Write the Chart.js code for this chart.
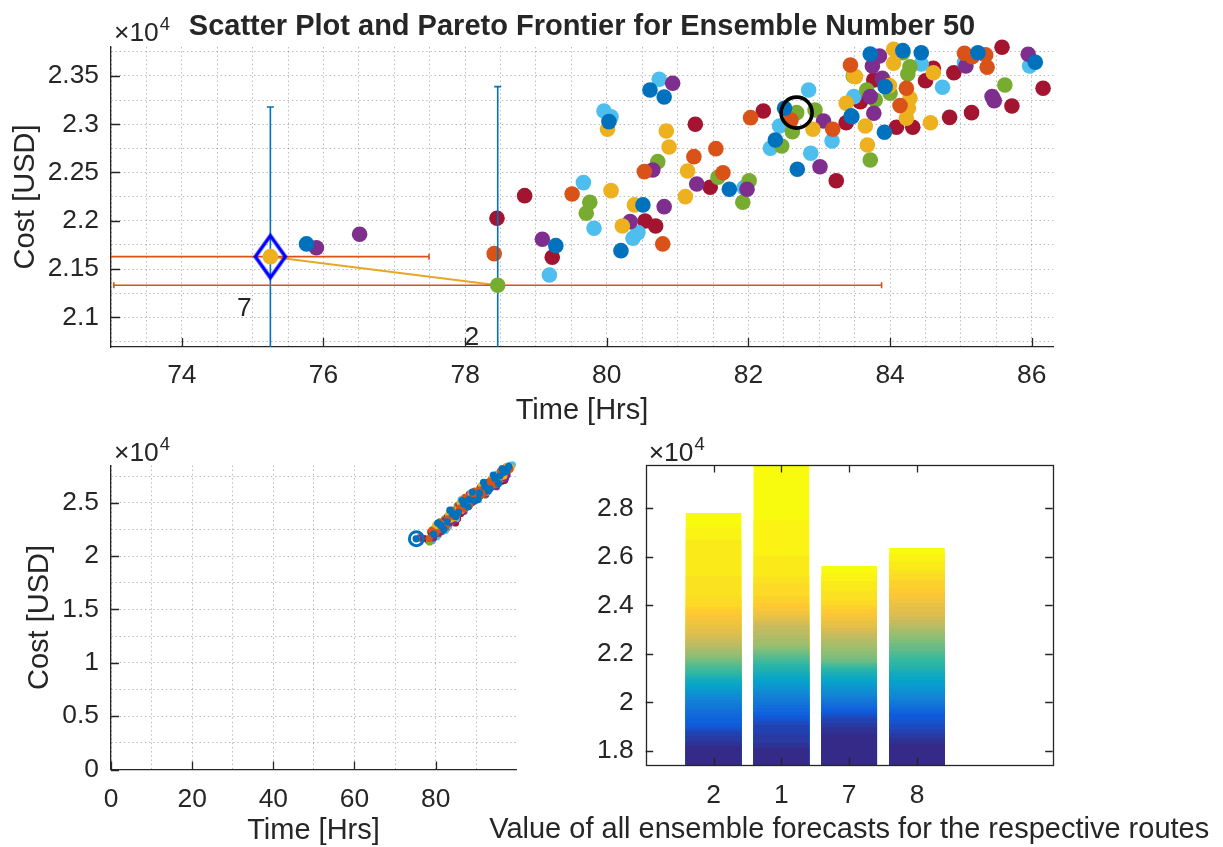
<!DOCTYPE html>
<html><head><meta charset="utf-8">
<script src="https://cdn.jsdelivr.net/npm/chart.js@4.4.1/dist/chart.umd.min.js"></script>
<style>
html,body{margin:0;padding:0;background:#fff;}
body{width:1223px;height:847px;position:relative;overflow:hidden;}
canvas{position:absolute;}
</style></head><body>
<canvas id="c1" style="left:0;top:0" width="1223" height="440"></canvas>
<canvas id="c2" style="left:0;top:430px" width="600" height="417"></canvas>
<canvas id="c3" style="left:450px;top:430px" width="773" height="417"></canvas>
<script>
// ---------------- DATA ----------------
// Top: ensemble number 50, time [hrs] / cost [USD], grouped by marker colour
const blueTime   = [75.76,79.28,80.03,80.61,80.81,80.51,80.20,81.73,82.51,82.38,82.69,83.45,83.72,84.18,84.44,83.93,83.46,83.92,85.24,86.05];
const blueCost   = [21760,21742,23027,23355,23282,22164,21690,22326,23165,22837,22533,23086,23728,23762,23741,23389,23078,22917,23741,23642];
const orangeTime = [78.41,79.51,80.53,80.79,81.23,81.54,81.64,82.03,82.60,83.19,83.44,84.23,84.14,85.05,85.35,85.16,85.37];
const orangeCost = [21659,22277,22509,21760,22664,22747,22498,23068,23044,22948,23614,23373,23193,23735,23718,23700,23590];
const yellowTime = [80.01,80.06,80.84,80.88,80.39,80.22,81.14,81.11,82.91,83.38,83.49,84.05,84.05,84.61,83.51,83.99,84.28,84.26,84.23,83.65,84.57,83.68];
const yellowCost = [22948,22312,22930,22764,22164,21946,22516,22250,22948,23217,23500,23777,23632,23534,23493,23400,23269,23165,23062,22982,23016,22785];
const purpleTime = [75.90,76.51,79.09,80.93,80.65,80.81,80.33,81.27,81.98,83.06,83.01,83.85,83.75,83.89,83.72,83.77,85.07,85.95,85.44,85.47];
const purpleCost = [21721,21860,21808,23424,22526,22146,21991,22381,22326,23034,22560,23707,23604,23476,23286,23114,23604,23725,23286,23244];
const greenTime  = [79.76,79.71,80.72,81.57,82.01,81.92,82.47,82.68,82.62,82.94,83.48,84.18,84.28,84.25,84.00,83.67,83.79,83.72,85.62];
const greenCost  = [22191,22078,22612,22450,22415,22191,22775,23120,22923,23148,23500,23741,23596,23521,23321,23355,23251,22630,23407];
const lblueTime  = [79.19,79.67,79.82,79.96,80.06,80.74,80.44,80.37,81.94,82.85,82.44,82.31,83.18,82.88,83.49,84.44,84.74,85.05,85.97];
const lblueCost  = [21438,22395,21922,23137,23078,23466,21877,21819,22343,23355,22982,22751,22827,22699,23286,23624,23383,23638,23604];
const redTime    = [78.84,78.45,79.23,80.54,80.69,81.25,81.46,82.21,83.24,83.38,83.57,84.61,84.50,84.90,83.77,83.58,84.09,84.32,84.84,85.15,85.58,85.72,86.16];
const redCost    = [22260,22026,21622,21998,21946,23000,22347,23137,22415,23016,23241,23580,23451,23534,23459,23234,22969,22969,23071,23120,23797,23189,23373];

// Pareto frontier (routes 7 and 2) with error ranges
const paretoRoutes = ['7','2'];
const paretoTime   = [75.25, 78.46];
const paretoCost   = [21628, 21332];
const costLow      = [20077, 19275];
const costHigh     = [23179, 23389];
const timeLow      = [72.90, 73.04];
const timeHigh     = [77.49, 83.88];
const chosenTime   = [82.68];
const chosenCost   = [23120];

const topTimeTicks = [74,76,78,80,82,84,86];
const topCostTicks = [21000,21500,22000,22500,23000,23500];

// Bottom-left: all ensembles
const allBlueT   = [75.2,79.5,81.2,82.8,84.1,85.6,86.9,88.2,89.5,90.8,92.1,93.4,94.6,95.8,96.9,98.0,80.5,82.0,83.5,85.0,86.5,88.0,89.0,90.5,91.8,93.0,94.2,95.5,97.5,96.4];
const allBlueC   = [21620,22050,22900,23200,23950,24100,24900,25300,25200,25900,26500,26300,27300,27500,27900,28400,23100,22500,24300,23700,25200,24600,26000,25300,26900,26100,27600,26800,28000,28200];
const allOrangeT = [78.4,80.1,81.5,83.0,84.5,85.9,87.0,88.6,89.9,91.0,92.5,93.8,95.0,96.2,97.3,98.3,79.0,81.0,82.5,84.0,85.5,87.2,88.4,89.6,91.0,92.0,93.5,94.8,96.0,97.8];
const allOrangeC = [21660,22200,22500,23500,23700,24500,24400,25400,25800,25700,26600,26900,27000,27700,27900,28150,22400,23200,22700,24300,24000,25500,24800,26100,26200,25900,27000,26700,28000,28300];
const allYellowT = [75.2,79.8,81.1,82.3,83.7,85.2,86.4,87.7,89.1,90.4,91.7,93.0,94.2,95.5,96.8,98.6,80.0,81.8,83.2,84.6,86.0,87.4,88.7,90.0,91.3,92.6,93.9,95.1,96.3,97.4];
const allYellowC = [21630,22310,22520,23000,23450,24300,24300,24800,25550,25400,26200,26700,26700,27400,27500,28300,22900,22600,23900,23600,25000,24500,25900,25600,26600,26000,27300,27000,27500,28400];
const allPurpleT = [75.9,79.1,80.7,82.1,83.4,84.8,86.1,87.3,88.9,90.2,91.4,92.8,94.0,95.3,96.5,97.6,79.5,81.4,82.9,84.3,85.7,87.0,88.3,89.8,91.1,92.4,93.7,95.0,96.1,97.2];
const allPurpleC = [21720,21800,22150,23300,23100,24000,24700,24650,25000,26000,25900,26200,27100,27000,27800,27600,21700,22300,23700,23300,24800,24200,25800,25200,26500,25800,27200,26500,27900,27300];
const allGreenT  = [78.5,79.7,80.9,82.6,84.0,85.0,86.6,87.9,89.3,90.6,91.9,93.2,94.4,95.6,96.6,97.8,79.3,80.8,82.2,83.8,85.3,86.8,88.1,89.4,90.8,92.2,93.4,94.7,95.9,97.0];
const allGreenC  = [21330,22100,22600,22900,23300,23900,24500,25200,25100,25700,26600,26400,26900,27200,27300,28000,22500,22100,23500,23200,24700,24300,25600,25400,26300,25700,27000,26600,27600,27800];
const allLblueT  = [79.2,80.3,81.9,83.2,84.7,85.8,87.1,88.4,89.7,91.2,92.3,93.6,94.9,96.0,97.1,98.9,80.9,82.4,84.2,85.1,86.3,87.8,89.2,90.3,91.6,92.9,94.1,95.2,96.6,98.2];
const allLblueC  = [21440,21820,22340,22800,23500,24700,25000,24900,25900,26100,26000,26800,27500,27200,28000,28550,22800,22400,24100,23500,25300,24700,25700,25500,26700,26300,26900,27700,27600,28500];
const allRedT    = [76.4,77.2,78.8,80.6,81.6,83.6,84.9,86.2,87.5,88.8,90.0,91.5,92.9,94.3,95.7,97.0,78.2,79.6,81.0,82.7,84.4,85.4,86.8,88.2,89.4,90.9,92.1,93.5,94.7,96.2];
const allRedC    = [21680,21650,22260,22000,22350,23240,23100,24000,25100,25650,25300,26300,26900,26600,27600,27100,21450,21900,22900,22600,24000,23500,25000,24700,25800,25600,26600,26400,27300,27000];
const allTimeTicks = [0,20,40,60,80];
const allCostTicks = [0,5000,10000,15000,20000,25000];

// Bottom-right: sorted ensemble costs per route
const routeLabels = ['2','1','7','8'];
const ensRoute2 = [18200,18376,18600,18788,18880,18967,19150,19338,19500,19682,19800,19957,20080,20200,20300,20400,20500,20575,20700,20800,20919,21000,21060,21125,21200,21331,21450,21550,21650,21744,21850,21950,22100,22200,22294,22450,22600,22706,22850,23050,23200,23394,23600,23800,23943,24356,25200,26693,27215,27806];
const ensRoute1 = [18100,18308,18700,19063,19200,19350,19476,19600,19750,19888,20000,20150,20300,20400,20500,20600,20713,20800,20950,21056,21150,21250,21350,21450,21579,21680,21780,21881,22000,22100,22200,22300,22404,22600,22800,23000,23187,23300,23394,23500,23600,23737,23900,24100,24383,24907,25180,26033,27500,29786];
const ensRoute7 = [18700,18968,19150,19340,19450,19550,19650,19752,19850,19950,20050,20165,20260,20360,20470,20577,20680,20780,20880,20990,21080,21170,21250,21330,21402,21480,21550,21620,21675,21800,21950,22100,22250,22400,22597,22700,22845,22950,23050,23187,23350,23500,23670,23850,24000,24218,24600,25000,25319,25620];
const ensRoute8 = [18300,18515,18700,18886,19100,19300,19517,19620,19720,19819,19940,20050,20165,20280,20400,20507,20640,20780,20919,21060,21200,21280,21360,21500,21650,21814,21950,22100,22294,22450,22600,22750,22871,23000,23130,23257,23400,23531,23700,23943,24100,24250,24466,24700,25043,25300,25456,25800,26100,26363];
const barCostTicks = [18000,20000,22000,24000,26000,28000];
const parulaStops = ['#352a87','#0f5cdd','#1481d6','#06a4ca','#2eb7a4','#87bf77','#d1bb59','#fec832','#f9fb0e'];

// ---------------- STYLE / HELPERS ----------------
const FONT = '"Liberation Sans", Arial, Helvetica, sans-serif';
const AX = '#262626';
const GRID = 'rgba(38,38,38,0.32)';
const TICK_FS = 26.4, LABEL_FS = 29;
const C = {blue:'#0072BD', orange:'#D95319', yellow:'#EDB120', purple:'#7E2F8E', green:'#77AC30', lblue:'#4DBEEE', red:'#A2142F'};
Chart.defaults.font.family = FONT;
Chart.defaults.color = AX;
Chart.defaults.animation = false;
Chart.defaults.events = [];
Chart.defaults.plugins.legend.display = false;
Chart.defaults.plugins.tooltip.enabled = false;

function fmt(v){ return String(parseFloat((v/1e4).toFixed(4))); }
function gridTicks(min,max,step){ const a=[]; const s=Math.ceil(min/step-1e-9); for(let i=s; i*step<=max+1e-9; i++) a.push(+(i*step).toFixed(6)); return a; }
function pts(t,c){ return t.map((v,i)=>({x:v,y:c[i]})); }
function hexRGB(h){ return [parseInt(h.slice(1,3),16),parseInt(h.slice(3,5),16),parseInt(h.slice(5,7),16)]; }
function parula(t){
  const n=parulaStops.length-1, p=Math.max(0,Math.min(1,t))*n, i=Math.min(n-1,Math.floor(p)), f=p-i;
  const a=hexRGB(parulaStops[i]), b=hexRGB(parulaStops[i+1]);
  return 'rgb('+a.map((v,j)=>Math.round(v+(b[j]-v)*f)).join(',')+')';
}
function linScale(o){
  return {
    type:'linear', min:o.min, max:o.max, offset:false,
    afterBuildTicks: s => { s.ticks = (o.step ? gridTicks(o.min,o.max,o.step) : o.major).map(v=>({value:v})); },
    afterFit: s => { if (o.w!=null) s.width=o.w; if (o.h!=null) s.height=o.h; },
    ticks:{autoSkip:false, maxRotation:0, minRotation:0, padding:o.pad, font:{size:TICK_FS, family:FONT}, color:AX,
      callback: v => { const k=o.major.findIndex(m=>Math.abs(m-v)<1e-6); return k<0 ? '' : (o.labels ? o.labels[k] : o.fmt(v)); }},
    grid:{display:o.grid, color:GRID, lineWidth:1, drawTicks:false, offset:false},
    border:{display:o.border, color:AX, width:1.3, dash:[1.4,2.8]}
  };
}
function txt(ctx,s,x,y,size,opt){
  opt=opt||{}; ctx.save(); ctx.font=(opt.bold?'bold ':'')+size+'px '+FONT; ctx.fillStyle=AX;
  ctx.textAlign=opt.align||'center'; ctx.textBaseline=opt.base||'middle';
  ctx.translate(x,y); if(opt.rot) ctx.rotate(opt.rot); ctx.fillText(s,0,0); ctx.restore();
}
function expLabel(ctx,x,y){
  ctx.save(); ctx.fillStyle=AX; ctx.textAlign='left'; ctx.textBaseline='alphabetic';
  ctx.font=TICK_FS+'px '+FONT; ctx.fillText('\u00d710',x,y); const w=ctx.measureText('\u00d710').width;
  ctx.font='18.5px '+FONT; ctx.fillText('4',x+w+1,y-11); ctx.restore();
}
function inTicks(chart,axis,vals,len,sides){
  const ctx=chart.ctx,a=chart.chartArea,s=chart.scales[axis];
  ctx.save(); ctx.strokeStyle=AX; ctx.lineWidth=1.3; ctx.beginPath();
  vals.forEach(v=>{ const p=Math.round(s.getPixelForValue(v))+0.5;
    if(axis==='x'){ if(sides.includes('b')){ctx.moveTo(p,a.bottom);ctx.lineTo(p,a.bottom-len);} if(sides.includes('t')){ctx.moveTo(p,a.top);ctx.lineTo(p,a.top+len);} }
    else { if(sides.includes('l')){ctx.moveTo(a.left,p);ctx.lineTo(a.left+len,p);} if(sides.includes('r')){ctx.moveTo(a.right,p);ctx.lineTo(a.right-len,p);} }
  });
  ctx.stroke(); ctx.restore();
}
// diamond marker image
const diamond = document.createElement('canvas'); diamond.width=40; diamond.height=52;
(function(){ const g=diamond.getContext('2d'); g.strokeStyle='#0000FF'; g.lineWidth=3.6; g.lineJoin='miter';
  g.beginPath(); g.moveTo(20,5); g.lineTo(35,26); g.lineTo(20,47); g.lineTo(5,26); g.closePath(); g.stroke(); })();

function scat(t,c,col,r){ return {data:pts(t,c), backgroundColor:col, borderWidth:0, pointRadius:r, pointHoverRadius:r, clip:false}; }

// ---------------- TOP CHART ----------------
const topPlugin = {
  id:'topDecor',
  beforeDatasetDraw(chart,args){
    if (chart.data.datasets[args.index].label!=='pareto') return;
    const ctx=chart.ctx,a=chart.chartArea,xs=chart.scales.x,ys=chart.scales.y;
    ctx.save(); ctx.beginPath(); ctx.rect(a.left,a.top,a.right-a.left,a.bottom-a.top); ctx.clip();
    ctx.lineWidth=1.6;
    paretoTime.forEach((t,i)=>{
      const px=xs.getPixelForValue(t), py=ys.getPixelForValue(paretoCost[i]);
      const y1=ys.getPixelForValue(costLow[i]), y2=ys.getPixelForValue(costHigh[i]);
      ctx.strokeStyle=C.blue; ctx.beginPath();
      ctx.moveTo(px,y1); ctx.lineTo(px,y2); ctx.moveTo(px-3.5,y1); ctx.lineTo(px+3.5,y1); ctx.moveTo(px-3.5,y2); ctx.lineTo(px+3.5,y2); ctx.stroke();
      const x1=xs.getPixelForValue(timeLow[i]), x2=xs.getPixelForValue(timeHigh[i]);
      ctx.strokeStyle=C.orange; ctx.beginPath();
      ctx.moveTo(x1,py); ctx.lineTo(x2,py); ctx.moveTo(x1,py-3); ctx.lineTo(x1,py+3); ctx.moveTo(x2,py-3); ctx.lineTo(x2,py+3); ctx.stroke();
    });
    ctx.restore();
  },
  afterDraw(chart){
    const ctx=chart.ctx,a=chart.chartArea,xs=chart.scales.x,ys=chart.scales.y;
    inTicks(chart,'x',topTimeTicks,9,'b'); inTicks(chart,'y',topCostTicks,9,'l');
    paretoTime.forEach((t,i)=>{ txt(ctx,paretoRoutes[i],xs.getPixelForValue(t)-26,ys.getPixelForValue(paretoCost[i])+52,TICK_FS); });
    txt(ctx,'Scatter Plot and Pareto Frontier for Ensemble Number 50',(a.left+a.right)/2,a.top-12,LABEL_FS,{bold:true,base:'alphabetic'});
    expLabel(ctx,a.left+3,a.top-6);
    txt(ctx,'Time [Hrs]',(a.left+a.right)/2,a.bottom+64,LABEL_FS);
    txt(ctx,'Cost [USD]',26,(a.top+a.bottom)/2,LABEL_FS,{rot:-Math.PI/2});
  }
};
new Chart(document.getElementById('c1'),{
  type:'scatter',
  data:{datasets:[
    {data:pts([paretoTime[0]],[paretoCost[0]]), pointStyle:diamond, pointRadius:10, clip:false},
    {data:pts(chosenTime,chosenCost), pointStyle:'circle', pointRadius:15.5, borderColor:'#000', backgroundColor:'rgba(0,0,0,0)', borderWidth:3.6, clip:false},
    {label:'pareto', data:pts(paretoTime,paretoCost), backgroundColor:[C.yellow,C.green], borderWidth:0, pointRadius:7.8, clip:false},
    {data:pts(paretoTime,paretoCost), showLine:true, borderColor:'#E4A823', borderWidth:2, pointRadius:0, clip:0},
    scat(blueTime,blueCost,C.blue,7.8),
    scat(orangeTime,orangeCost,C.orange,7.8),
    scat(yellowTime,yellowCost,C.yellow,7.8),
    scat(purpleTime,purpleCost,C.purple,7.8),
    scat(greenTime,greenCost,C.green,7.8),
    scat(lblueTime,lblueCost,C.lblue,7.8),
    scat(redTime,redCost,C.red,7.8)
  ]},
  options:{responsive:false, maintainAspectRatio:false,
    layout:{padding:{left:0,top:47,right:170,bottom:0}},
    scales:{
      x: linScale({min:73,max:86.3,step:0.5,major:topTimeTicks,fmt:v=>String(v),h:93,pad:13,grid:true,border:true}),
      y: linScale({min:20692,max:23800,step:250,major:topCostTicks,fmt:fmt,w:111,pad:12,grid:true,border:true})
    }},
  plugins:[topPlugin]
});

// ---------------- BOTTOM-LEFT CHART ----------------
const blPlugin = {
  id:'blDecor',
  afterDraw(chart){
    const ctx=chart.ctx,a=chart.chartArea;
    inTicks(chart,'x',allTimeTicks,8,'b'); inTicks(chart,'y',allCostTicks,8,'l');
    expLabel(ctx,a.left+3,a.top-5);
    txt(ctx,'Time [Hrs]',(a.left+a.right)/2,a.bottom+61,LABEL_FS);
    txt(ctx,'Cost [USD]',40,(a.top+a.bottom)/2,LABEL_FS,{rot:-Math.PI/2});
  }
};
new Chart(document.getElementById('c2'),{
  type:'scatter',
  data:{datasets:[
    {data:pts([paretoTime[0]],[paretoCost[0]]), pointStyle:'circle', pointRadius:7, borderColor:C.blue, backgroundColor:'rgba(0,0,0,0)', borderWidth:3, clip:false},
    scat(allBlueT,allBlueC,C.blue,3.6),
    scat(allOrangeT,allOrangeC,C.orange,3.6),
    scat(allYellowT,allYellowC,C.yellow,3.6),
    scat(allPurpleT,allPurpleC,C.purple,3.6),
    scat(allGreenT,allGreenC,C.green,3.6),
    scat(allLblueT,allLblueC,C.lblue,3.6),
    scat(allRedT,allRedC,C.red,3.6)
  ]},
  options:{responsive:false, maintainAspectRatio:false,
    layout:{padding:{left:0,top:35.5,right:84,bottom:0}},
    scales:{
      x: linScale({min:0,max:99.8,step:10,major:allTimeTicks,fmt:v=>String(v),h:77.5,pad:14,grid:true,border:true}),
      y: linScale({min:0,max:28490,step:2500,major:allCostTicks,fmt:fmt,w:111,pad:12,grid:true,border:true})
    }},
  plugins:[blPlugin]
});

// ---------------- BOTTOM-RIGHT CHART ----------------
const routes = [ensRoute2, ensRoute1, ensRoute7, ensRoute8];
const brPlugin = {
  id:'brDecor',
  afterDraw(chart){
    const ctx=chart.ctx,a=chart.chartArea;
    ctx.save(); ctx.strokeStyle=AX; ctx.lineWidth=1.3;
    ctx.strokeRect(Math.round(a.left)+0.5,Math.round(a.top)+0.5,Math.round(a.right-a.left),Math.round(a.bottom-a.top)); ctx.restore();
    inTicks(chart,'x',[1,2,3,4],7.5,'bt'); inTicks(chart,'y',barCostTicks,7.5,'lr');
    expLabel(ctx,a.left+3,a.top-4);
    txt(ctx,'Value of all ensemble forecasts for the respective routes',(a.left+a.right)/2,a.bottom+65,LABEL_FS);
  }
};
const barSets = ensRoute2.map((_,k)=>({
  data: routes.map((r,i)=>({x:i+1, y:r[k]})),
  backgroundColor: parula(k/(ensRoute2.length-1)),
  borderWidth:0, grouped:false, barPercentage:0.82, categoryPercentage:1, order:k, clip:0, base:17414
}));
new Chart(document.getElementById('c3'),{
  type:'bar',
  data:{datasets:barSets},
  options:{responsive:false, maintainAspectRatio:false,
    layout:{padding:{left:0,top:35,right:170.3,bottom:0}},
    scales:{
      x: linScale({min:0,max:6,major:[1,2,3,4],labels:routeLabels,h:82,pad:15,grid:false,border:false}),
      y: linScale({min:17414,max:29786,major:barCostTicks,fmt:fmt,w:195.7,pad:12,grid:false,border:false})
    }},
  plugins:[brPlugin]
});
</script></body></html>
